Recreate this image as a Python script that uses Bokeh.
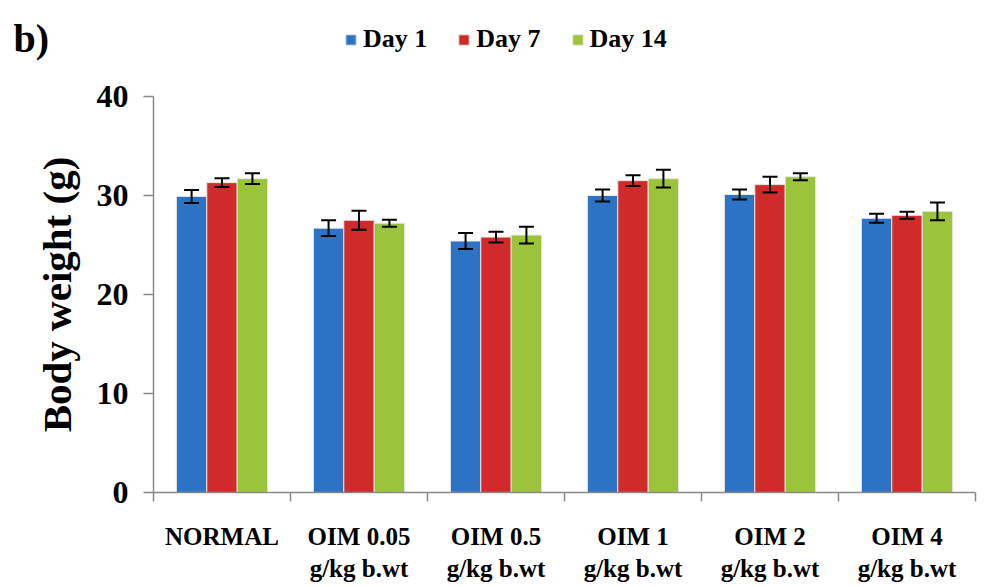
import numpy as np
from bokeh.plotting import figure
from bokeh.models import (ColumnDataSource, Whisker, TeeHead, FixedTicker, Legend,
                          LegendItem, Label, Range1d)
from bokeh.embed import file_html
from bokeh.resources import INLINE

groups = ["NORMAL", "OIM 0.05\ng/kg b.wt", "OIM 0.5\ng/kg b.wt", "OIM 1\ng/kg b.wt",
          "OIM 2\ng/kg b.wt", "OIM 4\ng/kg b.wt"]
series = ["Day 1", "Day 7", "Day 14"]
day1 = [29.9, 26.7, 25.4, 30.0, 30.1, 27.7]
day7 = [31.3, 27.5, 25.8, 31.5, 31.1, 28.0]
day14 = [31.7, 27.2, 26.0, 31.7, 31.9, 28.4]
err1 = [0.65, 0.8, 0.8, 0.6, 0.5, 0.45]
err7 = [0.45, 0.95, 0.55, 0.55, 0.8, 0.35]
err14 = [0.55, 0.35, 0.85, 0.9, 0.35, 0.9]
y_ticks = [0, 10, 20, 30, 40]
y_max = 40

colors = ["#2C73C5", "#D02A2A", "#9BC43A"]
FONT = "Liberation Serif"

# layout (canvas pixels)
W, H = 989, 587
AX_LEFT, AX_RIGHT, AX_TOP, AX_BOTTOM = 153, 975, 96, 492
n = len(groups)
px_x = (AX_RIGHT - AX_LEFT) / n
px_y = (AX_BOTTOM - AX_TOP) / y_max
x_start = -AX_LEFT / px_x
x_end = n + (W - AX_RIGHT) / px_x
y_start = -(H - AX_BOTTOM) / px_y
y_end = y_max + AX_TOP / px_y

p = figure(width=W, height=H, output_backend="svg", toolbar_location=None,
           x_range=Range1d(x_start, x_end), y_range=Range1d(y_start, y_end),
           min_border=0)
p.outline_line_color = None
p.grid.grid_line_color = None
p.background_fill_color = "white"

bw = 0.222
offsets = [-bw, 0.0, bw]
idx = np.arange(n)
legend_items = []
for vals, errs, off, col, name in zip([day1, day7, day14], [err1, err7, err14],
                                      offsets, colors, series):
    v = np.array(vals)
    e = np.array(errs)
    src = ColumnDataSource(dict(x=idx + 0.5 + off, top=v, up=v + e, lo=v - e))
    r = p.vbar(x="x", top="top", bottom=0, width=bw, source=src, fill_color=col,
               line_color="#e6e6e6", line_width=1)
    legend_items.append(LegendItem(label=name, renderers=[r]))
    wk = Whisker(base="x", upper="up", lower="lo", source=src, level="overlay",
                 line_color="black", line_width=2,
                 upper_head=TeeHead(size=15, line_color="black", line_width=2),
                 lower_head=TeeHead(size=15, line_color="black", line_width=2))
    p.add_layout(wk)

# y axis, drawn at x = 0 inside the widened frame
p.yaxis.fixed_location = 0
p.yaxis.bounds = (0, y_max)
p.yaxis.ticker = FixedTicker(ticks=y_ticks, minor_ticks=[])
p.yaxis.axis_line_color = "#8a8a8a"
p.yaxis.axis_line_width = 1.5
p.yaxis.major_tick_line_color = "#8a8a8a"
p.yaxis.major_tick_line_width = 1.5
p.yaxis.major_tick_out = 10
p.yaxis.major_tick_in = 0
p.yaxis.minor_tick_line_color = None
p.yaxis.major_label_text_font = FONT
p.yaxis.major_label_text_font_style = "bold"
p.yaxis.major_label_text_font_size = "32px"
p.yaxis.major_label_text_color = "black"
p.yaxis.major_label_standoff = 15
p.yaxis.axis_label = "Body weight (g)"
p.yaxis.axis_label_text_font = FONT
p.yaxis.axis_label_text_font_style = "bold"
p.yaxis.axis_label_text_font_size = "41px"
p.yaxis.axis_label_text_color = "black"
p.yaxis.axis_label_standoff = 14

# x axis at y = 0: boundary ticks as minor ticks, labels at group centres
p.xaxis.fixed_location = 0
p.xaxis.bounds = (0, n)
p.xaxis.ticker = FixedTicker(ticks=list(idx + 0.5), minor_ticks=list(range(n + 1)))
p.xaxis.major_label_overrides = {float(i + 0.5): g for i, g in enumerate(groups)}
p.xaxis.axis_line_color = "#8a8a8a"
p.xaxis.axis_line_width = 1.5
p.xaxis.major_tick_line_color = None
p.xaxis.major_tick_out = 0
p.xaxis.major_tick_in = 0
p.xaxis.minor_tick_line_color = "#8a8a8a"
p.xaxis.minor_tick_line_width = 1.5
p.xaxis.minor_tick_out = 9
p.xaxis.minor_tick_in = 0
p.xaxis.major_label_text_font = FONT
p.xaxis.major_label_text_font_style = "bold"
p.xaxis.major_label_text_font_size = "25px"
p.xaxis.major_label_text_color = "black"
p.xaxis.major_label_standoff = 21

legend = Legend(items=legend_items, orientation="horizontal", location=(344, 533),
                label_text_font=FONT, label_text_font_style="bold",
                label_text_font_size="26px", label_text_color="black",
                glyph_width=13, glyph_height=13, label_standoff=6, spacing=30,
                padding=0, margin=0, border_line_color=None,
                background_fill_alpha=0)
p.add_layout(legend, "center")

p.add_layout(Label(x=13, y=H - 38, x_units="screen", y_units="screen", text="b)",
                   text_font=FONT, text_font_style="bold", text_font_size="40px",
                   text_color="black", text_baseline="alphabetic"))

open("out.html", "w").write(file_html(p, INLINE))
